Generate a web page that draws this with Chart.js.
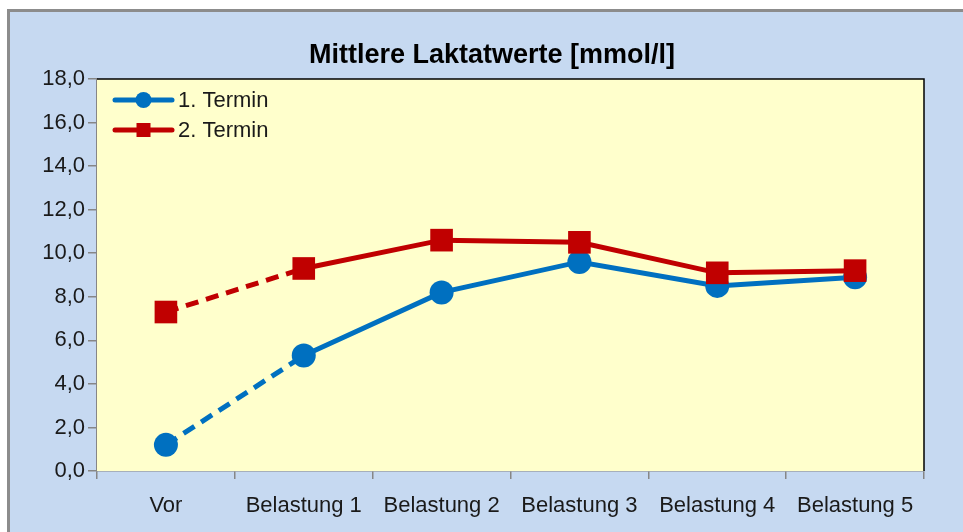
<!DOCTYPE html>
<html>
<head>
<meta charset="utf-8">
<script src="https://cdn.jsdelivr.net/npm/chart.js@4.4.1/dist/chart.umd.min.js"></script>
<style>
  html, body { margin: 0; padding: 0; background: #ffffff; }
  #box {
    position: absolute; left: 7px; top: 9px;
    width: 953px; height: 520px;
    background: #c6d9f1;
    border-top: 3px solid #8c8c8c;
    border-left: 3px solid #8c8c8c;
  }
  #myChart { display: block; }
</style>
</head>
<body>
<div id="box"><canvas id="myChart" width="953" height="520"></canvas></div>
<script>
// ---------------- data ----------------
var kategorien = ['Vor', 'Belastung 1', 'Belastung 2', 'Belastung 3', 'Belastung 4', 'Belastung 5'];
var termin1 = [1.2, 5.3, 8.2, 9.6, 8.5, 8.9];
var termin2 = [7.3, 9.3, 10.6, 10.5, 9.1, 9.2];
var yTicks = [0, 2, 4, 6, 8, 10, 12, 14, 16, 18];

var blau = '#0070c0';
var rot = '#c00000';
var schrift = "'Liberation Sans', Arial, sans-serif";

// erste Strecke gestrichelt
var gestrichelt = function (ctx) {
  return ctx.p0DataIndex === 0 ? [13, 8] : undefined;
};

// Titel etwas nach rechts schieben (mittig ueber dem Plot wie im Original)
var titelVersatz = {
  id: 'titelVersatz',
  afterLayout: function (chart) {
    if (chart.titleBlock) chart.titleBlock.left += 50;
  }
};

// Hintergrund + Rahmen des Plotbereichs
var plotBg = {
  id: 'plotBg',
  beforeDatasetsDraw: function (chart) {
    var a = chart.chartArea, c = chart.ctx;
    c.save();
    c.fillStyle = '#ffffcc';
    c.fillRect(a.left, a.top, a.right - a.left, a.bottom - a.top);
    c.strokeStyle = '#000000';
    c.lineWidth = 1.5;
    c.beginPath();
    c.moveTo(a.left, a.top);
    c.lineTo(a.right, a.top);
    c.lineTo(a.right, a.bottom);
    c.stroke();
    c.restore();
  }
};

// Legende oben links im Plotbereich
var legende = {
  id: 'legende',
  afterDatasetsDraw: function (chart) {
    var a = chart.chartArea, c = chart.ctx;
    var eintraege = [
      { ds: chart.data.datasets[0], y: a.top + 21 },
      { ds: chart.data.datasets[1], y: a.top + 51 }
    ];
    c.save();
    eintraege.forEach(function (e) {
      var x0 = a.left + 18, x1 = a.left + 75, xm = (x0 + x1) / 2;
      c.strokeStyle = e.ds.borderColor;
      c.lineWidth = 5;
      c.lineCap = 'round';
      c.beginPath();
      c.moveTo(x0, e.y);
      c.lineTo(x1, e.y);
      c.stroke();
      c.fillStyle = e.ds.borderColor;
      if (e.ds.pointStyle === 'rect') {
        c.fillRect(xm - 7, e.y - 7, 14, 14);
      } else {
        c.beginPath();
        c.arc(xm, e.y, 8, 0, Math.PI * 2);
        c.fill();
      }
      c.fillStyle = '#1a1a1a';
      c.font = '22px ' + schrift;
      c.textBaseline = 'middle';
      c.fillText(e.ds.label, x1 + 6, e.y + 1);
    });
    c.restore();
  }
};

const pickChart = document.getElementById('myChart');
const drawChart = new Chart(pickChart, {
  type: 'line',
  data: {
    labels: kategorien,
    datasets: [
      {
        label: '1. Termin',
        data: termin1,
        borderColor: blau,
        backgroundColor: blau,
        borderWidth: 5,
        pointStyle: 'circle',
        pointRadius: 12,
        pointBorderWidth: 0,
        segment: { borderDash: gestrichelt },
        order: 2
      },
      {
        label: '2. Termin',
        data: termin2,
        borderColor: rot,
        backgroundColor: rot,
        borderWidth: 5,
        pointStyle: 'rect',
        pointRadius: 16,
        pointBorderWidth: 0,
        segment: { borderDash: gestrichelt },
        order: 1
      }
    ]
  },
  options: {
    responsive: false,
    animation: false,
    events: [],
    layout: { padding: { left: 0, right: 39, top: 0, bottom: 0 } },
    plugins: {
      legend: { display: false },
      tooltip: { enabled: false },
      title: {
        display: true,
        text: 'Mittlere Laktatwerte [mmol/l]',
        color: '#000000',
        font: { family: schrift, size: 27, weight: 'bold', lineHeight: 1.2 },
        padding: { top: 27, bottom: 7.6 }
      }
    },
    scales: {
      x: {
        offset: true,
        grid: { offset: true, drawOnChartArea: false, color: '#868686', tickLength: 8, lineWidth: 1.5 },
        border: { color: '#868686', width: 1.5 },
        ticks: { color: '#1a1a1a', font: { family: schrift, size: 22 }, padding: 14, maxRotation: 0 },
        afterFit: function (s) { s.height = 61; }
      },
      y: {
        min: 0,
        max: 18,
        afterBuildTicks: function (s) { s.ticks = yTicks.map(function (v) { return { value: v }; }); },
        grid: { drawOnChartArea: false, color: '#868686', tickLength: 9, lineWidth: 1.5 },
        border: { color: '#868686', width: 1.5 },
        ticks: {
          color: '#1a1a1a',
          font: { family: schrift, size: 22 },
          padding: 3,
          callback: function (v) { return v.toFixed(1).replace('.', ','); }
        },
        afterFit: function (s) { s.width = 87; }
      }
    }
  },
  plugins: [titelVersatz, plotBg, legende]
});
</script>
</body>
</html>
